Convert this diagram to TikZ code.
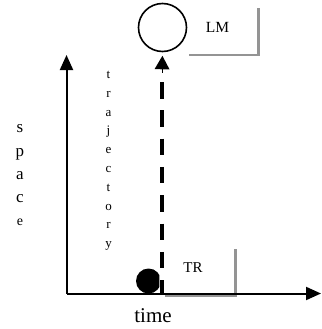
\documentclass[tikz,border=0pt]{standalone}
\usepackage{fontspec}
\setmainfont{Liberation Serif}
\usetikzlibrary{arrows.meta}
\tikzset{
  axis/.style={line width=2pt,-{Triangle[length=15pt,width=13pt]}},
  graybox/.style={draw=black!42,line width=2.2pt},
  lbl/.style={inner sep=0pt,anchor=base},
}
\begin{document}
\begin{tikzpicture}[x=1pt,y=-1pt]
\useasboundingbox (0,0) rectangle (321,329);
% gray L shapes
\draw[graybox] (189,55) -- (258.5,55) -- (258.5,8);
\draw[graybox] (165,295.5) -- (235.5,295.5) -- (235.5,249);
% axes
\coordinate (o) at (66.5,293.5);
\coordinate (ytip) at (66.5,55);
\coordinate (xtip) at (321,293.5);
\draw[axis] (o.center) -- (ytip);
\draw[axis] (o.center) -- (xtip);
% landmark circle
\node[circle,draw,line width=1.6pt,minimum size=48pt,inner sep=0pt] (lm) at (162.5,27.5) {};
% trajector disc
\begin{scope}
\clip (120,260) rectangle (159.3,300);
\node[circle,fill=black,minimum size=25pt,inner sep=0pt] (tr) at (148.5,281) {};
\end{scope}
\coordinate (trtop) at (162,293);
\coordinate (dashend) at (162,82);
\coordinate (headbase) at (162,72);
% trajectory dashed arrow
\draw[line width=4.4pt,dash pattern=on 16.5pt off 11.8pt] (dashend) -- (trtop);
\draw[line width=0pt,shorten >=3.5pt,-{Triangle[length=13.5pt,width=15pt]}] (headbase) -- (lm.south);
% labels
\node[lbl,font=\fontsize{15.5}{16}\selectfont] (lmlbl) at (217.5,32.5) {LM};
\node[lbl,font=\fontsize{15}{16}\selectfont] (trlbl) at (193,272.5) {TR};
\node[lbl,font=\fontsize{21}{22}\selectfont] (time) at (153,322) {time};
% space
\foreach \c/\yy [count=\i] in {s/132.5,p/156,a/179,c/202} {
  \node[lbl,font=\fontsize{17}{17}\selectfont] (sp\i) at (20,\yy) {\c};
}
\node[lbl,font=\fontsize{14}{14}\selectfont] (sp5) at (20,225) {e};
% trajectory
\foreach \c [count=\i] in {t,r,a,j,e,c,t,o,r,y} {
  \node[lbl,font=\fontsize{13}{13}\selectfont] (tj\i) at (108.5,{78.5+18.8*(\i-1)}) {\c};
}
\end{tikzpicture}
\end{document}
